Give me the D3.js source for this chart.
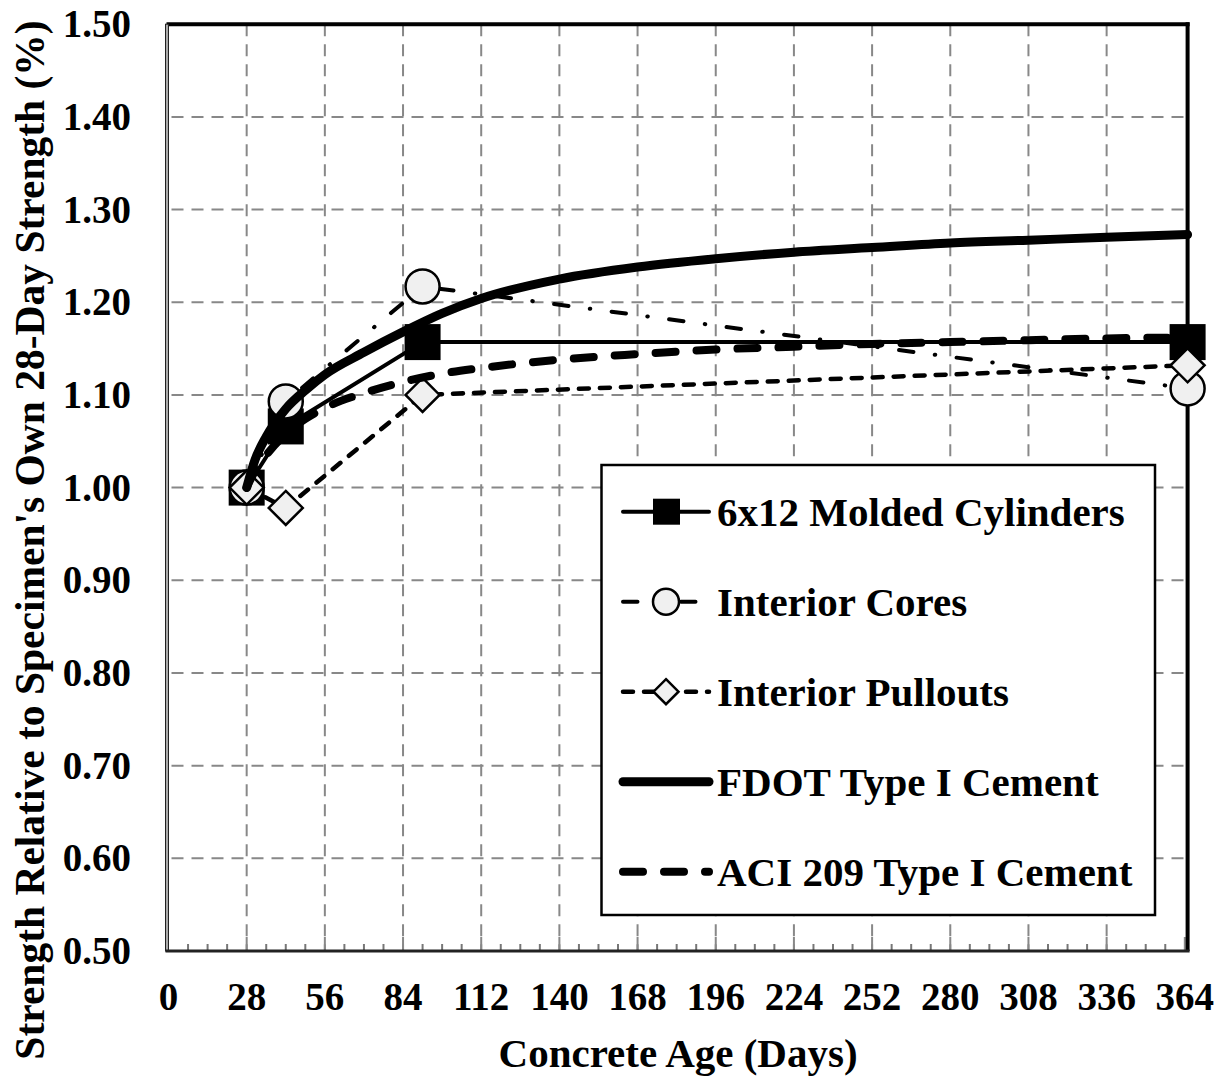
<!DOCTYPE html>
<html>
<head>
<meta charset="utf-8">
<script src="https://cdn.jsdelivr.net/npm/d3@7"></script>
<style>
  html, body { margin: 0; padding: 0; background: #fff; }
  svg text { font-family: "Liberation Serif", "Times New Roman", serif; font-weight: bold; fill: #000; }
</style>
</head>
<body>
<svg id="chart" width="1228" height="1080"></svg>
<script>
// ---------------- data ----------------
const xTicks = [0, 28, 56, 84, 112, 140, 168, 196, 224, 252, 280, 308, 336, 364];
const yTicks = [0.50, 0.60, 0.70, 0.80, 0.90, 1.00, 1.10, 1.20, 1.30, 1.40, 1.50];

const testDays = [28, 42, 91, 365];
const molded   = [1.000, 1.066, 1.157, 1.157];
const cores    = [1.000, 1.093, 1.217, 1.107];
const pullouts = [1.000, 0.978, 1.100, 1.132];

const modelDays = [28, 31, 35, 42, 49, 56, 70, 84, 98, 112, 140, 168, 196, 224, 252, 280, 308, 336, 365];
const fdot = [1.000, 1.030, 1.055, 1.085, 1.105, 1.122, 1.146, 1.168, 1.188, 1.204, 1.225, 1.238, 1.247, 1.254, 1.259, 1.264, 1.267, 1.270, 1.273];
const aci  = [1.000, 1.018, 1.035, 1.058, 1.074, 1.086, 1.102, 1.114, 1.123, 1.129, 1.138, 1.144, 1.149, 1.152, 1.155, 1.157, 1.159, 1.161, 1.162];

const legendLabels = ["6x12 Molded Cylinders", "Interior Cores", "Interior Pullouts", "FDOT Type I Cement", "ACI 209 Type I Cement"];

// ---------------- layout ----------------
const svg = d3.select("#chart");
const L = 168.5, R = 1187.6, T = 24.2, B = 951;
const x = d3.scaleLinear().domain([0, 365]).range([L, R]);
const y = d3.scaleLinear().domain([0.5, 1.5]).range([B, T]);

// gridlines
const g = svg.append("g");
g.selectAll("line.vg").data(xTicks.filter(d => d > 0 && d < 364)).enter().append("line")
  .attr("x1", d => x(d)).attr("x2", d => x(d)).attr("y1", T).attr("y2", B)
  .attr("stroke", "#888").attr("stroke-width", 2).attr("stroke-dasharray", "12,8");
g.selectAll("line.hg").data(yTicks.filter(d => d > 0.55 && d < 1.45)).enter().append("line")
  .attr("x1", L).attr("x2", R).attr("y1", d => y(d)).attr("y2", d => y(d))
  .attr("stroke", "#888").attr("stroke-width", 2).attr("stroke-dasharray", "12,8").attr("stroke-dashoffset", -3);

// minor ticks on the x axis (every 7 days)
const minor = d3.range(7, 365, 7).filter(d => d % 28 !== 0);
g.selectAll("line.mt").data(minor).enter().append("line")
  .attr("x1", d => x(d)).attr("x2", d => x(d)).attr("y1", B).attr("y2", B - 7)
  .attr("stroke", "#777").attr("stroke-width", 2);
g.selectAll("line.Mt").data(xTicks.filter(d => d > 0)).enter().append("line")
  .attr("x1", d => x(d)).attr("x2", d => x(d)).attr("y1", B).attr("y2", B - 14)
  .attr("stroke", "#888").attr("stroke-width", 2);

// borders
svg.append("line").attr("x1", L - 2).attr("x2", R + 2).attr("y1", T).attr("y2", T).attr("stroke", "#000").attr("stroke-width", 4);
svg.append("line").attr("x1", R).attr("x2", R).attr("y1", T - 2).attr("y2", B).attr("stroke", "#000").attr("stroke-width", 4);
svg.append("rect").attr("x", L - 3).attr("y", T).attr("width", 3).attr("height", B - T)
  .attr("fill", "#aaa").attr("stroke", "#222").attr("stroke-width", 1);
svg.append("line").attr("x1", L - 3).attr("x2", R + 2).attr("y1", B).attr("y2", B).attr("stroke", "#222").attr("stroke-width", 3);

// tick labels
svg.append("g").selectAll("text").data(yTicks).enter().append("text")
  .attr("x", 131).attr("y", d => y(d) + 13).attr("text-anchor", "end")
  .attr("font-size", 39).text(d => d.toFixed(2));
svg.append("g").selectAll("text").data(xTicks).enter().append("text")
  .attr("x", d => x(d)).attr("y", 1010).attr("text-anchor", "middle")
  .attr("font-size", 39).text(d => d);

// axis titles
svg.append("text").attr("x", (L + R) / 2).attr("y", 1067).attr("text-anchor", "middle")
  .attr("font-size", 41).text("Concrete Age (Days)");
svg.append("text").attr("transform", "translate(44,540) rotate(-90)").attr("text-anchor", "middle")
  .attr("font-size", 41.5).text("Strength Relative to Specimen's Own 28-Day Strength (%)");

// ---------------- series ----------------
const line = d3.line().x(d => x(d[0])).y(d => y(d[1]));
const smooth = d3.line().x(d => x(d[0])).y(d => y(d[1])).curve(d3.curveMonotoneX);
const zip = (a, b) => a.map((v, i) => [v, b[i]]);

const styles = {
  molded:   { w: 4,   dash: null },
  cores:    { w: 4,   dash: "14.5,21.5,0.5,21.5" },
  pullouts: { w: 4.5, dash: "10,11" },
  fdot:     { w: 9,   dash: null },
  aci:      { w: 8,   dash: "20,21" }
};
const diamond = s => `M0,${-s}L${s},0L0,${s}L${-s},0Z`;

function drawPath(gen, pts, st) {
  svg.append("path").attr("d", gen(pts)).attr("fill", "none").attr("stroke", "#000")
    .attr("stroke-width", st.w).attr("stroke-linecap", "round").attr("stroke-linejoin", "round")
    .attr("stroke-dasharray", st.dash);
}

// Series 1: molded cylinders
drawPath(line, zip(testDays, molded), styles.molded);
svg.append("g").selectAll("rect").data(zip(testDays, molded)).enter().append("rect")
  .attr("x", d => x(d[0]) - 18).attr("y", d => y(d[1]) - 18).attr("width", 36).attr("height", 36)
  .attr("fill", "#000");
// Series 2: cores
drawPath(line, zip(testDays, cores), styles.cores);
svg.append("g").selectAll("circle").data(zip(testDays, cores)).enter().append("circle")
  .attr("cx", d => x(d[0])).attr("cy", d => y(d[1])).attr("r", 17)
  .attr("fill", "#f0f0f0").attr("stroke", "#000").attr("stroke-width", 2.5);
// Series 3: pullouts
drawPath(line, zip(testDays, pullouts), styles.pullouts);
svg.append("g").selectAll("path").data(zip(testDays, pullouts)).enter().append("path")
  .attr("d", diamond(17)).attr("transform", d => `translate(${x(d[0])},${y(d[1])})`)
  .attr("fill", "#f0f0f0").attr("stroke", "#000").attr("stroke-width", 2.5);
// Series 4: FDOT model
drawPath(smooth, zip(modelDays, fdot), styles.fdot);
// Series 5: ACI 209 model
drawPath(smooth, zip(modelDays, aci), styles.aci);

// ---------------- legend ----------------
const lg = svg.append("g");
lg.append("rect").attr("x", 601.5).attr("y", 465).attr("width", 553.5).attr("height", 450)
  .attr("fill", "#fff").attr("stroke", "#000").attr("stroke-width", 2.5);
const keys = ["molded", "cores", "pullouts", "fdot", "aci"];
keys.forEach((k, i) => {
  const cy = 511.7 + i * 90;
  const st = styles[k];
  lg.append("line").attr("x1", 623).attr("x2", 709).attr("y1", cy).attr("y2", cy)
    .attr("stroke", "#000").attr("stroke-width", st.w).attr("stroke-linecap", "round")
    .attr("stroke-dasharray", st.dash);
  if (k === "molded") lg.append("rect").attr("x", 653).attr("y", cy - 13).attr("width", 27).attr("height", 26).attr("fill", "#000");
  if (k === "cores") lg.append("circle").attr("cx", 666).attr("cy", cy).attr("r", 13)
    .attr("fill", "#f0f0f0").attr("stroke", "#000").attr("stroke-width", 2.5);
  if (k === "pullouts") lg.append("path").attr("d", diamond(12.5)).attr("transform", `translate(666,${cy})`)
    .attr("fill", "#f0f0f0").attr("stroke", "#000").attr("stroke-width", 2.5);
  lg.append("text").attr("x", 717).attr("y", cy + 14).attr("font-size", 41).text(legendLabels[i]);
});
</script>
</body>
</html>
